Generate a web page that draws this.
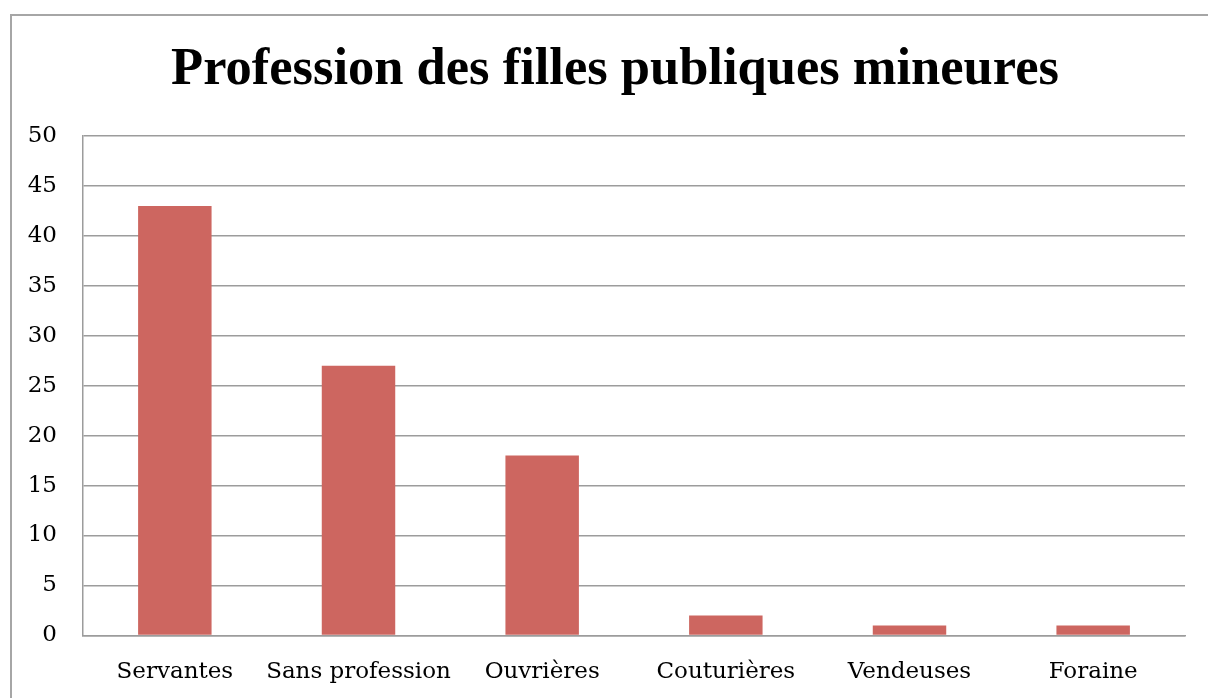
<!DOCTYPE html>
<html>
<head>
<meta charset="utf-8">
<script src="https://cdn.jsdelivr.net/npm/chart.js@4"></script>
<style>
  body { margin: 0; overflow: hidden; background: #fff; }
  #frame {
    position: absolute; left: 10px; top: 14px;
    width: 1260px; height: 740px;
    border: 2px solid #a6a6a6;
  }
  #wrap { position: absolute; left: 0; top: 0; width: 1208px; height: 698px; }
</style>
</head>
<body>
<div id="frame"></div>
<div id="wrap"><canvas id="myChart"></canvas></div>
<script>
const categories = ["Servantes", "Sans profession", "Ouvrières", "Couturières", "Vendeuses", "Foraine"];
const counts = [43, 27, 18, 2, 1, 1];
const titleText = "Profession des filles publiques mineures";

const titleFont = "'Liberation Serif', 'DejaVu Serif', serif";
const tickFont = "'DejaVu Serif', 'Liberation Serif', serif";

// title is centred a little to the right of the canvas middle
const shiftTitle = {
    id: "shiftTitle",
    afterLayout(chart) {
        if (chart.titleBlock) {
            chart.titleBlock.left = 45;
        }
    },
};

const ctx = document.getElementById("myChart").getContext("2d");
new window.Chart(ctx, {
    type: "bar",
    data: {
        labels: categories,
        datasets: [
            {
                label: "Nombre",
                backgroundColor: "#cd6660",
                borderWidth: 0,
                barPercentage: 0.4,
                categoryPercentage: 1,
                data: counts,
            },
        ],
    },
    options: {
        responsive: true,
        maintainAspectRatio: false,
        animation: false,
        layout: {
            padding: { left: 26, right: 23, top: 30, bottom: -11 },
        },
        plugins: {
            legend: { display: false },
            tooltip: { enabled: false },
            title: {
                display: true,
                text: titleText,
                color: "#000",
                font: { family: titleFont, size: 52.5, weight: "bold" },
                padding: { top: 9, bottom: 34 },
            },
        },
        scales: {
            y: {
                min: 0,
                max: 50,
                afterFit: (scale) => {
                    scale.width = 57;
                },
                ticks: {
                    stepSize: 5,
                    color: "#000",
                    padding: 26,
                    font: { family: tickFont, size: 23 },
                },
                grid: {
                    color: "#9c9c9c",
                    lineWidth: 1.5,
                    drawTicks: false,
                },
                border: { color: "#9c9c9c", width: 1.5 },
            },
            x: {
                ticks: {
                    color: "#000",
                    padding: 23,
                    maxRotation: 0,
                    autoSkip: false,
                    font: { family: tickFont, size: 23 },
                },
                grid: { display: false, drawTicks: false },
                border: { color: "#9c9c9c", width: 1.5 },
            },
        },
    },
    plugins: [shiftTitle],
});
</script>
</body>
</html>
